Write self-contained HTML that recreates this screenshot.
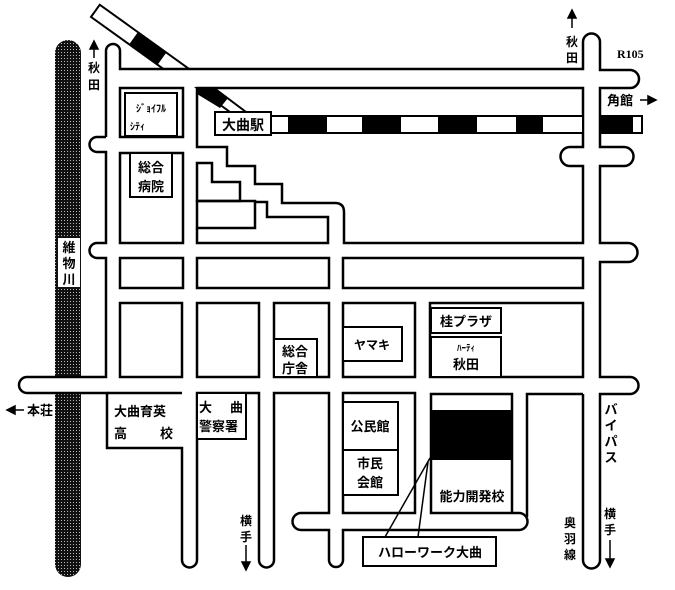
<!DOCTYPE html>
<html><head><meta charset="utf-8"><style>
html,body{margin:0;padding:0;background:#fff;}
svg{display:block;}
text{font-family:"Liberation Sans","Noto Sans CJK JP",sans-serif;font-weight:bold;fill:#000;}
</style></head><body>
<svg width="675" height="590" viewBox="0 0 675 590" xmlns="http://www.w3.org/2000/svg">
<defs>
<pattern id="dots" width="3" height="3" patternUnits="userSpaceOnUse">
<rect width="3" height="3" fill="#111"/><rect x="1" y="1" width="1" height="1" fill="#bbb"/>
</pattern>
<clipPath id="clipTop"><rect x="0" y="0" width="675" height="69"/></clipPath>
</defs>
<!-- river -->
<path d="M55,377 V53 A13,13 0 0 1 81,53 V377 Z" fill="url(#dots)"/>
<path d="M55,393 V564 A13,13 0 0 0 81,564 V393 Z" fill="url(#dots)"/>
<rect x="58" y="238" width="22" height="49" fill="#fff"/>
<text x="69" y="252" font-size="13" text-anchor="middle">維</text>
<text x="69" y="268" font-size="13" text-anchor="middle">物</text>
<text x="69" y="284" font-size="13" text-anchor="middle">川</text>

<!-- diagonal track top-left -->
<g clip-path="url(#clipTop)">
<g transform="translate(97,12) rotate(35.7)">
<rect x="-2" y="-7.5" width="130" height="15" fill="#fff" stroke="#000" stroke-width="2"/>
<rect x="45" y="-7.5" width="35" height="15" fill="#000"/>
</g>
</g>

<g fill="none" stroke="#000" stroke-width="2.5">
<!-- V1 left edge and left bumps -->
<path d="M106,137 V51 A7,7 0 0 1 120,51 V69 H583 V42 A8.5,8.5 0 0 1 600,42 V70 H630 A9,9 0 0 1 630,88 H600 V147 H624 A9.5,9.5 0 0 1 624,166 H600 V243 H628 A9.5,9.5 0 0 1 628,262 H600 V377 H630 A8.5,8.5 0 0 1 630,394 H600 V560 A8.5,8.5 0 0 1 583,560 V394"/>
<path d="M106,137 H97 A7.5,7.5 0 0 0 97,152 H106 V243 H97 A7.5,7.5 0 0 0 97,258 H106 V377 H27 A8,8 0 0 0 27,393 H107 V448 H182 V560 A7.5,7.5 0 0 0 197,560 V393 H259 V560 A7.5,7.5 0 0 0 274,560 V393 H329 V513 H301 A8.5,8.5 0 0 0 301,530 H329 V560 A7,7 0 0 0 343,560 V530 H519 A8.5,8.5 0 0 0 519,513 H431 V394 H512 V513"/>
<path d="M107,393 H182"/>
<path d="M343,513 H415 V393 H343 Z"/>
<path d="M527,517 V394 H583"/>
<!-- top blocks -->
<rect x="120" y="88" width="63" height="49"/>
<rect x="120" y="153" width="63" height="90"/>
<rect x="120" y="258" width="63" height="30"/>
<rect x="197" y="258" width="132" height="30"/>
<rect x="343" y="258" width="240" height="30"/>
<!-- big station block -->
<path d="M197,147 V88 H583 V147 H570 A9.5,9.5 0 0 0 570,166 H583 V243 H344 V212 Q344,203 335,203 H282 V184 H255 V166 H227 V147 Z"/>
<path d="M197,163 H212 V182 H240 V201 H197 Z"/>
<path d="M197,201 H255 V228 H197 Z"/>
<path d="M255,202 H267 V217 H328 V243 H197 V228"/>
<!-- row 303-377 -->
<rect x="120" y="303" width="62" height="74"/>
<rect x="197" y="303" width="62" height="74"/>
<rect x="274" y="303" width="55" height="74"/>
<rect x="343" y="303" width="72" height="74"/>
<rect x="430" y="303" width="153" height="74"/>
</g>

<!-- second diagonal near station -->
<polygon points="197,88 214,88 246,112 230,112" fill="#fff" stroke="#000" stroke-width="2"/>
<polygon points="197,88 214,88 228,98 220,108 197,94" fill="#000"/>

<!-- track -->
<g stroke="#000" stroke-width="2">
<rect x="271" y="116" width="312" height="17" fill="#fff"/>
<rect x="600" y="116" width="42" height="17" fill="#fff"/>
</g>
<g fill="#000">
<rect x="288" y="116" width="39" height="17"/>
<rect x="362" y="116" width="39" height="17"/>
<rect x="438" y="116" width="39" height="17"/>
<rect x="516" y="116" width="27" height="17"/>
<rect x="600" y="116" width="33" height="17"/>
</g>

<!-- label boxes -->
<g fill="#fff" stroke="#000" stroke-width="2">
<rect x="215" y="112" width="56" height="23"/>
<rect x="125" y="93" width="52" height="43"/>
<rect x="130" y="153" width="42" height="44"/>
<rect x="274" y="339" width="43" height="38"/>
<rect x="343" y="327" width="59" height="34"/>
<rect x="431" y="308" width="70" height="25"/>
<rect x="431" y="337" width="70" height="40"/>
<rect x="197" y="393" width="49" height="46"/>
<rect x="343" y="402" width="55" height="48"/>
<rect x="343" y="450" width="55" height="45"/>
<rect x="363" y="537" width="133" height="29"/>
</g>
<rect x="431" y="410" width="81" height="50" fill="#000"/>
<g stroke="#000" stroke-width="1.5">
<line x1="430" y1="458" x2="385" y2="537"/>
<line x1="428" y1="462" x2="418" y2="537"/>
</g>

<!-- arrows -->
<g stroke="#000" stroke-width="1.5" fill="#000">
<line x1="94" y1="47" x2="94" y2="58"/><polygon points="90,49 98,49 94,41"/>
<line x1="572" y1="16" x2="572" y2="28"/><polygon points="568,18 576,18 572,10"/>
<line x1="640" y1="100" x2="650" y2="100"/><polygon points="648,96 648,104 656,100"/>
<line x1="14" y1="410" x2="24" y2="410"/><polygon points="15,406 15,414 7,410"/>
<line x1="246" y1="545" x2="246" y2="563"/><polygon points="242,562 250,562 246,570"/>
<line x1="610" y1="540" x2="610" y2="560"/><polygon points="606,559 614,559 610,567"/>
</g>

<!-- text -->
<g font-size="12">
<text x="94" y="72" text-anchor="middle">秋</text>
<text x="94" y="89" text-anchor="middle">田</text>
<text x="572" y="46" text-anchor="middle">秋</text>
<text x="572" y="62" text-anchor="middle">田</text>
<text x="617" y="58" font-size="12" style="font-family:'Liberation Serif',serif">R105</text>
<text x="607" y="105" font-size="13">角館</text>
<text x="243" y="130" font-size="14" text-anchor="middle">大曲駅</text>
<text x="151" y="112" font-size="10" text-anchor="middle">ｼﾞｮｲﾌﾙ</text>
<text x="130" y="130" font-size="10">ｼﾃｨ</text>
<text x="151" y="172" font-size="13" text-anchor="middle">総合</text>
<text x="151" y="191" font-size="13" text-anchor="middle">病院</text>
<text x="295" y="356" font-size="13" text-anchor="middle">総合</text>
<text x="295" y="373" font-size="13" text-anchor="middle">庁舎</text>
<text x="372" y="349" font-size="12" text-anchor="middle">ヤマキ</text>
<text x="466" y="326" font-size="13" text-anchor="middle">桂プラザ</text>
<text x="466" y="351" font-size="9" text-anchor="middle">ﾊｰﾃｨ</text>
<text x="466" y="369" font-size="13" text-anchor="middle">秋田</text>
<text x="27" y="415" font-size="13">本荘</text>
<text x="114" y="416" font-size="13">大曲育英</text>
<text x="114" y="438" font-size="13">高</text>
<text x="160" y="438" font-size="13">校</text>
<text x="199" y="412" font-size="13">大</text>
<text x="230" y="412" font-size="13">曲</text>
<text x="199" y="431" font-size="13">警察署</text>
<text x="370" y="431" font-size="13" text-anchor="middle">公民館</text>
<text x="370" y="468" font-size="13" text-anchor="middle">市民</text>
<text x="370" y="487" font-size="13" text-anchor="middle">会館</text>
<text x="472" y="501" font-size="13" text-anchor="middle">能力開発校</text>
<text x="430" y="557" font-size="13" text-anchor="middle">ハローワーク大曲</text>
<text x="246" y="525" text-anchor="middle">横</text>
<text x="246" y="541" text-anchor="middle">手</text>
<text x="570" y="527" text-anchor="middle">奥</text>
<text x="570" y="543" text-anchor="middle">羽</text>
<text x="570" y="559" text-anchor="middle">線</text>
<text x="611" y="414" font-size="13" text-anchor="middle">バ</text>
<text x="611" y="430" font-size="13" text-anchor="middle">イ</text>
<text x="611" y="446" font-size="13" text-anchor="middle">パ</text>
<text x="611" y="462" font-size="13" text-anchor="middle">ス</text>
<text x="610" y="518" text-anchor="middle">横</text>
<text x="610" y="534" text-anchor="middle">手</text>
</g>
</svg>
</body></html>
